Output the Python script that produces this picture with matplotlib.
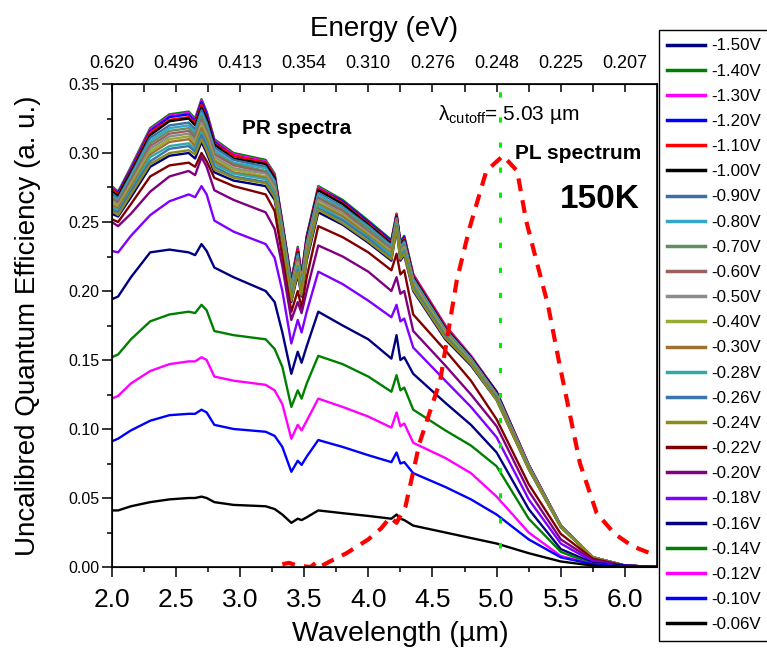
import numpy as np
import matplotlib.pyplot as plt

plt.rcParams['font.family'] = ['Liberation Sans', 'DejaVu Sans']
plt.rcParams['mathtext.fontset'] = 'custom'
plt.rcParams['mathtext.rm'] = 'Liberation Sans'

# wavelength grid (um) for the PR spectra
wl = [2.00, 2.05, 2.15, 2.30, 2.45, 2.60, 2.65, 2.70, 2.74, 2.80, 2.95, 3.20,
      3.27, 3.33, 3.40, 3.45, 3.48, 3.52, 3.61, 3.80, 4.00, 4.18, 4.22, 4.25,
      4.28, 4.35, 4.60, 4.80, 5.00, 5.25, 5.50, 5.75, 6.00, 6.25]

# PR spectra, one list per bias
qe_m150 = [0.256, 0.254, 0.268, 0.290, 0.298, 0.300, 0.296, 0.308, 0.300, 0.286, 0.280, 0.276,
           0.266, 0.235, 0.192, 0.212, 0.196, 0.222, 0.257, 0.248, 0.235, 0.222, 0.245, 0.222,
           0.226, 0.200, 0.165, 0.146, 0.121, 0.071, 0.029, 0.007, 0.001, 0.000]
qe_m140 = [0.276, 0.272, 0.290, 0.318, 0.328, 0.330, 0.325, 0.339, 0.330, 0.310, 0.300, 0.295,
           0.285, 0.250, 0.208, 0.232, 0.212, 0.240, 0.276, 0.266, 0.251, 0.237, 0.256, 0.236,
           0.240, 0.212, 0.175, 0.153, 0.127, 0.074, 0.030, 0.007, 0.001, 0.000]
qe_m130 = [0.275, 0.271, 0.289, 0.317, 0.327, 0.329, 0.324, 0.338, 0.329, 0.309, 0.299, 0.294,
           0.284, 0.249, 0.207, 0.231, 0.211, 0.239, 0.275, 0.265, 0.250, 0.236, 0.256, 0.235,
           0.239, 0.212, 0.175, 0.153, 0.127, 0.074, 0.030, 0.007, 0.001, 0.000]
qe_m120 = [0.274, 0.271, 0.288, 0.316, 0.326, 0.328, 0.323, 0.337, 0.328, 0.308, 0.298, 0.293,
           0.283, 0.249, 0.207, 0.230, 0.211, 0.239, 0.274, 0.265, 0.250, 0.236, 0.255, 0.235,
           0.239, 0.211, 0.174, 0.152, 0.127, 0.074, 0.030, 0.007, 0.001, 0.000]
qe_m110 = [0.274, 0.270, 0.287, 0.315, 0.324, 0.326, 0.322, 0.335, 0.326, 0.307, 0.298, 0.293,
           0.283, 0.248, 0.206, 0.230, 0.210, 0.238, 0.274, 0.264, 0.249, 0.235, 0.255, 0.234,
           0.238, 0.211, 0.174, 0.152, 0.126, 0.074, 0.030, 0.007, 0.001, 0.000]
qe_m100 = [0.272, 0.269, 0.286, 0.313, 0.323, 0.325, 0.320, 0.333, 0.325, 0.306, 0.296, 0.292,
           0.282, 0.247, 0.205, 0.228, 0.209, 0.237, 0.273, 0.263, 0.248, 0.234, 0.254, 0.233,
           0.237, 0.210, 0.173, 0.152, 0.126, 0.073, 0.030, 0.007, 0.001, 0.000]
qe_m090 = [0.271, 0.267, 0.284, 0.311, 0.320, 0.322, 0.317, 0.331, 0.322, 0.304, 0.295, 0.290,
           0.280, 0.246, 0.204, 0.227, 0.208, 0.235, 0.271, 0.261, 0.247, 0.233, 0.253, 0.232,
           0.236, 0.209, 0.172, 0.151, 0.125, 0.073, 0.030, 0.007, 0.001, 0.000]
qe_m080 = [0.269, 0.266, 0.283, 0.309, 0.318, 0.320, 0.315, 0.329, 0.320, 0.302, 0.293, 0.289,
           0.279, 0.245, 0.203, 0.225, 0.207, 0.234, 0.270, 0.260, 0.246, 0.232, 0.252, 0.231,
           0.235, 0.208, 0.172, 0.151, 0.125, 0.073, 0.030, 0.007, 0.001, 0.000]
qe_m070 = [0.268, 0.265, 0.281, 0.307, 0.316, 0.318, 0.313, 0.327, 0.318, 0.300, 0.292, 0.287,
           0.277, 0.244, 0.202, 0.224, 0.206, 0.233, 0.268, 0.259, 0.245, 0.231, 0.252, 0.230,
           0.234, 0.207, 0.171, 0.150, 0.125, 0.073, 0.030, 0.007, 0.001, 0.000]
qe_m060 = [0.267, 0.264, 0.280, 0.305, 0.314, 0.316, 0.311, 0.324, 0.316, 0.299, 0.291, 0.286,
           0.276, 0.243, 0.200, 0.223, 0.204, 0.232, 0.267, 0.258, 0.243, 0.230, 0.251, 0.229,
           0.233, 0.206, 0.170, 0.150, 0.124, 0.073, 0.030, 0.007, 0.001, 0.000]
qe_m050 = [0.265, 0.262, 0.278, 0.303, 0.312, 0.314, 0.309, 0.322, 0.314, 0.297, 0.289, 0.285,
           0.275, 0.242, 0.199, 0.221, 0.203, 0.230, 0.266, 0.256, 0.242, 0.229, 0.250, 0.228,
           0.232, 0.206, 0.170, 0.149, 0.124, 0.072, 0.029, 0.007, 0.001, 0.000]
qe_m040 = [0.264, 0.261, 0.277, 0.301, 0.310, 0.312, 0.307, 0.320, 0.312, 0.295, 0.288, 0.283,
           0.273, 0.241, 0.198, 0.220, 0.202, 0.229, 0.264, 0.255, 0.241, 0.228, 0.249, 0.227,
           0.231, 0.205, 0.169, 0.149, 0.123, 0.072, 0.029, 0.007, 0.001, 0.000]
qe_m030 = [0.262, 0.260, 0.275, 0.299, 0.308, 0.310, 0.305, 0.318, 0.310, 0.294, 0.286, 0.282,
           0.272, 0.240, 0.197, 0.218, 0.201, 0.228, 0.263, 0.254, 0.240, 0.227, 0.249, 0.226,
           0.230, 0.204, 0.168, 0.148, 0.123, 0.072, 0.029, 0.007, 0.001, 0.000]
qe_m028 = [0.261, 0.258, 0.273, 0.297, 0.305, 0.307, 0.303, 0.315, 0.307, 0.292, 0.285, 0.281,
           0.271, 0.239, 0.196, 0.217, 0.200, 0.226, 0.262, 0.252, 0.239, 0.226, 0.248, 0.225,
           0.229, 0.203, 0.167, 0.148, 0.122, 0.072, 0.029, 0.007, 0.001, 0.000]
qe_m026 = [0.259, 0.257, 0.272, 0.294, 0.303, 0.305, 0.301, 0.313, 0.305, 0.290, 0.283, 0.279,
           0.269, 0.237, 0.195, 0.215, 0.199, 0.225, 0.260, 0.251, 0.238, 0.224, 0.247, 0.224,
           0.228, 0.202, 0.167, 0.147, 0.122, 0.071, 0.029, 0.007, 0.001, 0.000]
qe_m024 = [0.258, 0.255, 0.270, 0.292, 0.300, 0.302, 0.299, 0.310, 0.302, 0.288, 0.282, 0.278,
           0.268, 0.236, 0.193, 0.214, 0.197, 0.224, 0.259, 0.249, 0.236, 0.223, 0.246, 0.223,
           0.227, 0.201, 0.166, 0.147, 0.121, 0.071, 0.029, 0.007, 0.001, 0.000]
qe_m022 = [0.252, 0.250, 0.263, 0.283, 0.291, 0.293, 0.290, 0.300, 0.294, 0.282, 0.276, 0.270,
           0.258, 0.225, 0.185, 0.200, 0.188, 0.210, 0.247, 0.239, 0.228, 0.215, 0.227, 0.212,
           0.215, 0.183, 0.157, 0.135, 0.107, 0.060, 0.024, 0.006, 0.001, 0.000]
qe_m020 = [0.250, 0.247, 0.256, 0.272, 0.283, 0.287, 0.284, 0.297, 0.290, 0.273, 0.266, 0.257,
           0.245, 0.218, 0.179, 0.192, 0.184, 0.200, 0.233, 0.225, 0.214, 0.200, 0.210, 0.198,
           0.200, 0.171, 0.146, 0.125, 0.102, 0.055, 0.020, 0.005, 0.001, 0.000]
qe_m018 = [0.229, 0.228, 0.240, 0.255, 0.265, 0.270, 0.268, 0.276, 0.270, 0.251, 0.243, 0.234,
           0.224, 0.200, 0.162, 0.179, 0.170, 0.185, 0.214, 0.205, 0.193, 0.181, 0.190, 0.178,
           0.180, 0.159, 0.135, 0.116, 0.094, 0.049, 0.017, 0.004, 0.001, 0.000]
qe_m016 = [0.194, 0.196, 0.210, 0.228, 0.230, 0.228, 0.226, 0.234, 0.229, 0.217, 0.210, 0.200,
           0.192, 0.170, 0.140, 0.156, 0.148, 0.160, 0.185, 0.175, 0.165, 0.151, 0.168, 0.150,
           0.152, 0.140, 0.119, 0.103, 0.083, 0.042, 0.013, 0.003, 0.001, 0.000]
qe_m014 = [0.152, 0.154, 0.165, 0.178, 0.183, 0.185, 0.184, 0.190, 0.186, 0.171, 0.168, 0.165,
           0.158, 0.145, 0.116, 0.128, 0.122, 0.133, 0.153, 0.147, 0.138, 0.127, 0.139, 0.128,
           0.130, 0.114, 0.099, 0.088, 0.073, 0.035, 0.011, 0.002, 0.000, 0.000]
qe_m012 = [0.122, 0.124, 0.133, 0.142, 0.147, 0.149, 0.149, 0.152, 0.150, 0.138, 0.135, 0.132,
           0.128, 0.118, 0.093, 0.103, 0.099, 0.106, 0.122, 0.116, 0.109, 0.101, 0.112, 0.102,
           0.104, 0.090, 0.079, 0.068, 0.051, 0.025, 0.008, 0.002, 0.000, 0.000]
qe_m010 = [0.091, 0.093, 0.099, 0.106, 0.110, 0.111, 0.111, 0.114, 0.112, 0.103, 0.100, 0.098,
           0.095, 0.087, 0.069, 0.077, 0.074, 0.080, 0.092, 0.087, 0.081, 0.076, 0.083, 0.075,
           0.076, 0.068, 0.058, 0.049, 0.038, 0.020, 0.007, 0.002, 0.000, 0.000]
qe_m006 = [0.041, 0.041, 0.044, 0.047, 0.049, 0.050, 0.050, 0.051, 0.050, 0.047, 0.045, 0.044,
           0.042, 0.038, 0.032, 0.035, 0.034, 0.036, 0.041, 0.039, 0.037, 0.035, 0.038, 0.035,
           0.034, 0.030, 0.025, 0.021, 0.017, 0.010, 0.004, 0.001, 0.000, 0.000]

labels = ['-1.50V', '-1.40V', '-1.30V', '-1.20V', '-1.10V', '-1.00V', '-0.90V', '-0.80V',
          '-0.70V', '-0.60V', '-0.50V', '-0.40V', '-0.30V', '-0.28V', '-0.26V', '-0.24V',
          '-0.22V', '-0.20V', '-0.18V', '-0.16V', '-0.14V', '-0.12V', '-0.10V', '-0.06V']
colors = ['#000080', '#008000', '#ff00ff', '#0000ff', '#ff0000', '#000000', '#3f6f9f', '#33a6cc',
          '#5f8f60', '#9a6060', '#8c8c8c', '#99aa33', '#a0702f', '#30a8a8', '#3a74b0', '#8b8b1a',
          '#800000', '#800080', '#8000ff', '#000080', '#008000', '#ff00ff', '#0000ff', '#000000']
series = [qe_m150, qe_m140, qe_m130, qe_m120, qe_m110, qe_m100, qe_m090, qe_m080,
          qe_m070, qe_m060, qe_m050, qe_m040, qe_m030, qe_m028, qe_m026, qe_m024,
          qe_m022, qe_m020, qe_m018, qe_m016, qe_m014, qe_m012, qe_m010, qe_m006]

# PL spectrum (arb. scaled)
pl_wl = [3.33, 3.38, 3.45, 3.55, 3.59, 3.62, 3.70, 3.83, 4.00, 4.10, 4.17, 4.22, 4.29, 4.40,
         4.56, 4.69, 4.79, 4.92, 5.05, 5.16, 5.23, 5.31, 5.40, 5.49, 5.65, 5.78, 5.92, 6.06, 6.25]
pl_val = [0.002, 0.003, 0.001, 0.000, 0.003, 0.000, 0.004, 0.010, 0.020, 0.028, 0.036, 0.032,
          0.044, 0.090, 0.135, 0.208, 0.246, 0.287, 0.298, 0.287, 0.251, 0.222, 0.190, 0.147,
          0.075, 0.039, 0.024, 0.015, 0.008]

cutoff = 5.03

wl_ticks = [2.0, 2.5, 3.0, 3.5, 4.0, 4.5, 5.0, 5.5, 6.0]
energy_labels = ['0.620', '0.496', '0.413', '0.354', '0.310', '0.276', '0.248', '0.225', '0.207']

fig = plt.figure(figsize=(7.67, 6.48), dpi=100)
ax = fig.add_axes([111.7 / 767, 1 - 567 / 648, (657 - 111.7) / 767, (567 - 84) / 648])

for lab, c, s in zip(labels, colors, series):
    ax.plot(wl, s, color=c, lw=1.7, label=lab)

ax.plot(pl_wl, pl_val, color='#ff0000', lw=3, linestyle=(0, (3.1, 2.2)))
ax.plot([cutoff, cutoff], [0, 0.35], color='#00ee00', lw=2.2, linestyle=(2, (1.7, 6.5)))

ax.set_xlim(2.0, 6.25)
ax.set_ylim(0, 0.35)
ax.set_xticks(wl_ticks)
ax.set_xticks(np.arange(2.25, 6.25, 0.5), minor=True)
ax.set_yticks(np.arange(0, 0.351, 0.05))
ax.set_yticks(np.arange(0.025, 0.35, 0.05), minor=True)
ax.set_yticklabels(['%.2f' % v for v in np.arange(0, 0.351, 0.05)])
ax.tick_params(axis='x', which='major', direction='out', length=7, width=1.1, labelsize=19, pad=8)
ax.tick_params(axis='x', which='minor', direction='out', length=3.5, width=1.1)
ax.tick_params(axis='y', which='major', direction='out', length=7, width=1.1, labelsize=11.5, pad=2)
ax.tick_params(axis='y', which='minor', direction='out', length=3.5, width=1.1)
for sp in ax.spines.values():
    sp.set_linewidth(1.2)

ax.set_xlabel('Wavelength (µm)', fontsize=20.5)
ax.xaxis.set_label_coords((400 - 111.7) / 545.3, -0.112)
ax.set_ylabel('Uncalibred Quantum Efficiency (a. u.)', fontsize=20)
ax.yaxis.set_label_coords(-0.13, 0.5)

ax_top = ax.twiny()
ax_top.set_xlim(ax.get_xlim())
ax_top.set_xticks(wl_ticks)
ax_top.set_xticklabels(energy_labels)
ax_top.set_xticks(np.arange(2.25, 6.25, 0.5), minor=True)
ax_top.tick_params(axis='x', which='both', direction='in', length=6, width=1.1, labelsize=13, pad=9)
ax_top.set_xlabel('Energy (eV)', fontsize=20, labelpad=13)

ax.text(3.44, 0.318, 'PR spectra', fontsize=15, fontweight='bold', ha='center', va='center')
ax.text(4.54, 0.328, 'λ$_{\\mathregular{cutoff}}$= 5.03 µm', fontsize=15, ha='left', va='center')
ax.text(5.14, 0.300, 'PL spectrum', fontsize=15, fontweight='bold', ha='left', va='center')
ax.text(5.49, 0.266, '150K', fontsize=24, fontweight='bold', ha='left', va='center')

leg = fig.legend(loc='upper left', bbox_to_anchor=(659 / 767, 1 - 30 / 648), borderaxespad=0,
                 fontsize=12.2, handlelength=2.2, handletextpad=0.4, labelspacing=0.6,
                 borderpad=0.5, fancybox=False, edgecolor='black', framealpha=1)
leg.get_frame().set_linewidth(1.0)
for h in leg.get_lines():
    h.set_linewidth(2.5)

fig.savefig('out.png', dpi=100)
